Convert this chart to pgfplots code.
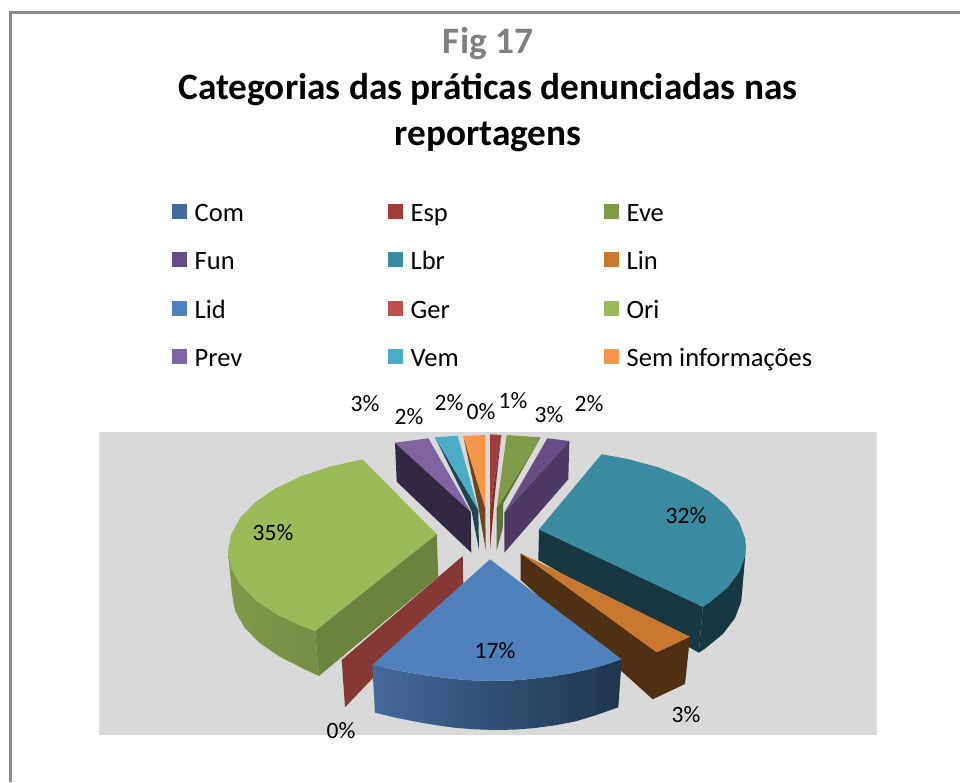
\documentclass[border=0pt]{standalone}
\usepackage{pgfplots}
\pgfplotsset{compat=1.18}
\usepackage{fontspec}
\setmainfont{Carlito}
\definecolor{cCom}{HTML}{43699C}
\definecolor{cEsp}{HTML}{9E3D3A}
\definecolor{cEve}{HTML}{7F9A48}
\definecolor{cFun}{HTML}{664D85}
\definecolor{cLbr}{HTML}{3A8AA2}
\definecolor{cLin}{HTML}{C8782F}
\definecolor{cLid}{HTML}{4F81BD}
\definecolor{cGer}{HTML}{C0504D}
\definecolor{cOri}{HTML}{9BBB59}
\definecolor{cPrev}{HTML}{8064A2}
\definecolor{cVem}{HTML}{4BACC6}
\definecolor{cSem}{HTML}{F79646}
\newcommand\LE[1]{\makebox[197pt][l]{\strut\hspace{5.5pt}#1}}
\begin{document}
\begin{tikzpicture}
\begin{axis}[
  name=ax,
  scale only axis, width=960pt, height=782pt,
  xmin=0, xmax=960, ymin=0, ymax=782, y dir=reverse,
  hide axis, clip=false,
  legend columns=3,
  legend cell align=left,
  legend image code/.code={\fill[draw=none,#1] (0.5pt,-7.5pt) rectangle (15.5pt,7.5pt);},
  legend style={at={(axis cs:169,196)}, anchor=north west, draw=none, fill=none,
    font=\fontsize{26.5}{30}\selectfont, row sep=22pt,
    /tikz/every even column/.append style={column sep=0pt}},
]
% page and frame
\addplot[fill=white, draw=none, forget plot] coordinates {(0,0)(960,0)(960,782)(0,782)};
\addplot[draw=black!45, line width=3pt, forget plot] coordinates {(10.5,782)(10.5,12.5)(960,12.5)};
\addplot[fill=black!15, draw=none, forget plot] coordinates {(99,432)(877,432)(877,734.5)(99,734.5)};
% legend
\addlegendimage{fill=cCom}\addlegendentry{\LE{Com}}
\addlegendimage{fill=cEsp}\addlegendentry{\LE{Esp}}
\addlegendimage{fill=cEve}\addlegendentry{\LE{Eve}}
\addlegendimage{fill=cFun}\addlegendentry{\LE{Fun}}
\addlegendimage{fill=cLbr}\addlegendentry{\LE{Lbr}}
\addlegendimage{fill=cLin}\addlegendentry{\LE{Lin}}
\addlegendimage{fill=cLid}\addlegendentry{\LE{Lid}}
\addlegendimage{fill=cGer}\addlegendentry{\LE{Ger}}
\addlegendimage{fill=cOri}\addlegendentry{\LE{Ori}}
\addlegendimage{fill=cPrev}\addlegendentry{\LE{Prev}}
\addlegendimage{fill=cVem}\addlegendentry{\LE{Vem}}
\addlegendimage{fill=cSem}\addlegendentry{\LE{Sem informações}}
% Prev
\addplot[fill=cPrev!40!black, draw=none, forget plot] coordinates {(395,442.7)(470.7,511.7)(471.3,552.7)(396.7,481.7)};
\addplot[fill=cPrev, draw=none, forget plot] coordinates {(395,442.7)(428.3,438.3)(470.7,511.7)};
% Vem
\addplot[fill=cVem!40!black, draw=none, forget plot] coordinates {(435,437.3)(478.3,510)(479,550)(471.7,511.7)};
\addplot[fill=cVem, draw=none, forget plot] coordinates {(435,437.3)(457.7,435.7)(478.3,510)};
% Sem
\addplot[fill=cSem!45!black, draw=none, forget plot] coordinates {(463.3,436)(485.3,508.3)(485.7,550)(478.3,506.7)};
\addplot[fill=cSem, draw=none, forget plot] coordinates {(463.3,436)(485.3,435)(485.3,508.3)};
% Esp
\addplot[fill=cEsp!80!black, draw=none, forget plot] coordinates {(501.3,435)(495,493.3)(490,550)(490,510)};
\addplot[fill=cEsp, draw=none, forget plot] coordinates {(490,434.3)(501.3,435)(490,510)};
% Eve
\addplot[fill=cEve!75!black, draw=none, forget plot] coordinates {(540.7,437.3)(503.3,503.3)(502.7,528.3)(496.7,550.7)(496.7,508.3)};
\addplot[fill=cEve, draw=none, forget plot] coordinates {(506.7,435)(540.7,437.3)(496.7,508.3)};
% Fun
\addplot[fill=cFun!75!black, draw=none, forget plot] coordinates {(569.3,441)(568.3,479.3)(504.3,552.7)(504.3,512.7)};
\addplot[fill=cFun, draw=none, forget plot] coordinates {(547.3,438.3)(569.3,441)(504.3,512.7)};
% Lbr
\addplot[fill=cLbr!40!black, draw=none, forget plot] coordinates {(539,529.3)(538.3,560)(698.8,652.7)(702.8,606.7)};
\addplot[fill=cLbr!40!black, draw=none, forget plot] coordinates {(702.8,606.7)(709.1,602.6)(726.9,588)(739,572.1)(745.2,555.5)(746,547)(742,593)(741.2,601.5)(735,618.1)(722.9,634)(705.1,648.6)(698.8,652.7)};
\addplot[fill=cLbr, draw=none, forget plot] coordinates {(601.6,454.2)(628.2,459.1)(659,467.5)(686.2,478.4)(709.1,491.4)(726.9,506)(739,521.9)(745.2,538.5)(746,547)(745.2,555.5)(739,572.1)(726.9,588)(709.1,602.6)(702.8,606.7)(539,529.3)};
% Ori
\addplot[fill=cOri!70!black, draw=none, forget plot] coordinates {(315,630.9)(436.7,534)(438.3,576.7)(319,675.9)};
\addplot[left color=cOri!82!black, right color=cOri!76!black, draw=none, forget plot] coordinates {(228,551)(231.1,567.9)(240.3,584.3)(255.3,599.8)(275.7,613.7)(300.9,625.7)(315,630.9)(319,675.9)(304.9,669.5)(279.7,656.7)(259.3,642.8)(244.3,627.3)(235.1,610.9)(232,594)};
\addplot[fill=cOri, draw=none, forget plot] coordinates {(362.2,459.4)(330,466.6)(300.9,476.3)(275.7,488.3)(255.3,502.3)(240.3,517.7)(231.1,534.1)(228,551)(231.1,567.9)(240.3,584.3)(255.3,599.8)(275.7,613.7)(300.9,625.7)(315,630.9)(436.7,534)};
% Ger
\addplot[fill=cGer!70!black, draw=none, forget plot] coordinates {(462.7,556)(463.3,583.3)(345,707.3)(341.7,660)};
% Lin
\addplot[fill=cLin!40!black, draw=none, forget plot] coordinates {(520.7,553.3)(520.7,580)(652.7,699.3)(685,684)(690,636.7)(656.7,652.3)};
\addplot[fill=cLin, draw=none, forget plot] coordinates {(520.7,553.3)(690,636.7)(656.7,652.3)};
% Lid
\addplot[left color=cCom, right color=cLid!40!black, draw=none, forget plot] coordinates {(372.3,665)(375,712.7)(395,717.5)(415,721.5)(435,725)(455,727.8)(475,729.3)(495,730)(515,729.6)(535,728)(555,725.3)(575,721.5)(595,715.5)(618.3,707.3)(621.7,659.3)(605,664.8)(590,669)(570,673.4)(550,676.6)(530,679)(510,680.6)(490,680.8)(470,680.2)(450,678.6)(430,676)(410,672.8)(390,669)};
\addplot[fill=cLid, draw=none, forget plot] coordinates {(490,559.3)(621.7,659.3)(605,664.8)(590,669)(570,673.4)(550,676.6)(530,679)(510,680.6)(490,680.8)(470,680.2)(450,678.6)(430,676)(410,672.8)(390,669)(372.3,665)};
% texts
\node[font=\fontsize{37.3}{42}\selectfont\bfseries, text=black!50] at (axis cs:488,44) {Fig 17};
\node[font=\fontsize{37.3}{42}\selectfont\bfseries] at (axis cs:488,90) {Categorias das práticas denunciadas nas};
\node[font=\fontsize{37.3}{42}\selectfont\bfseries] at (axis cs:488,136.5) {reportagens};
\foreach \x/\y/\t in {365/404/3\%, 409/417/2\%, 449/403/2\%, 481/412/0\%, 513/401/1\%, 549/415/3\%, 589/404/2\%, 273/533/35\%, 686/516/32\%, 495/651/17\%, 686/715/3\%, 341/731/0\%}{
  \edef\temp{\noexpand\node[font=\noexpand\fontsize{23.5}{27}\noexpand\selectfont] at (axis cs:\x,\y) {\t};}
  \temp
}
\end{axis}
\pgfresetboundingbox
\path[use as bounding box] (ax.south west) rectangle (ax.north east);
\end{tikzpicture}
\end{document}
